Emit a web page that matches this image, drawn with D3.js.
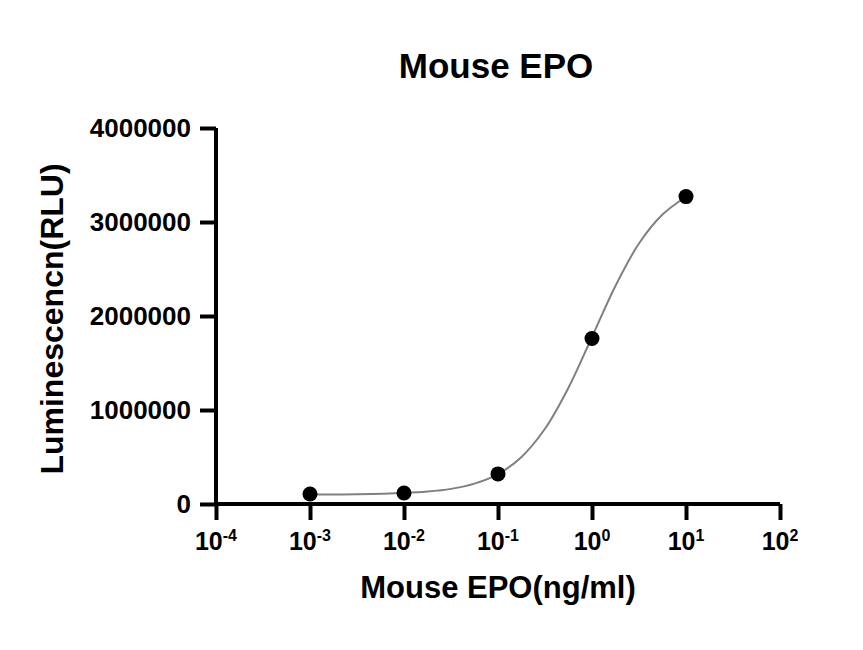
<!DOCTYPE html>
<html>
<head>
<meta charset="utf-8">
<script src="https://cdn.jsdelivr.net/npm/d3@7"></script>
<style>
  html, body { margin: 0; padding: 0; background: #fff; }
  svg { display: block; }
  text { font-family: "Liberation Sans", Arial, sans-serif; font-weight: bold; fill: #000; }
</style>
</head>
<body>
<svg id="chart" width="863" height="650"></svg>
<script>
// ---- data ----
const chartTitle = "Mouse EPO";
const xAxisTitle = "Mouse EPO(ng/ml)";
const yAxisTitle = "Luminescencn(RLU)";

const concentrations = [0.001, 0.01, 0.1, 1, 10];
const luminescence = [107000, 117000, 320000, 1760000, 3270000];

// fitted curve
const curveConc = [0.001, 0.00316, 0.01, 0.0178, 0.0316, 0.0562, 0.1, 0.178, 0.316, 0.562, 1, 1.78, 3.16, 5.62, 10];
const curveLum  = [101000, 104000, 117000, 132000, 161000, 217000, 319000, 501000, 800000, 1237000, 1777000, 2322000, 2771000, 3079000, 3269000];

const xTickExponents = [-4, -3, -2, -1, 0, 1, 2];
const yTickValues = [0, 1000000, 2000000, 3000000, 4000000];

// ---- layout ----
const svg = d3.select("#chart");
const x = d3.scaleLog().domain([1e-4, 1e2]).range([216, 780]);
const y = d3.scaleLinear().domain([0, 4000000]).range([504, 128]);

// title
svg.append("text")
  .attr("x", 496).attr("y", 78)
  .attr("text-anchor", "middle")
  .style("font-size", "35px")
  .text(chartTitle);

// y axis
const yAxis = d3.axisLeft(y)
  .tickValues(yTickValues)
  .tickSize(16)
  .tickPadding(9)
  .tickFormat(d3.format("d"));
const gy = svg.append("g").attr("transform", "translate(216,0)").call(yAxis);
gy.select(".domain").attr("stroke", "#000").attr("stroke-width", 4)
  .attr("d", `M0,${y(4000000)}V${y(0)}`);
gy.selectAll(".tick line").attr("stroke", "#000").attr("stroke-width", 4);
gy.selectAll(".tick text")
  .style("font-size", "26px")
  .style("font-family", '"Liberation Sans", Arial, sans-serif')
  .style("font-weight", "bold")
  .attr("fill", "#000");

// x axis
const xAxis = d3.axisBottom(x)
  .tickValues(xTickExponents.map(e => Math.pow(10, e)))
  .tickSize(16)
  .tickFormat("");
const gx = svg.append("g").attr("transform", "translate(0,504)").call(xAxis);
gx.select(".domain").attr("stroke", "#000").attr("stroke-width", 4)
  .attr("d", `M${x(1e-4)},0H${x(1e2)}`);
gx.selectAll(".tick line").attr("stroke", "#000").attr("stroke-width", 4);

const xl = svg.append("g");
xTickExponents.forEach(e => {
  const t = xl.append("text")
    .attr("x", x(Math.pow(10, e)))
    .attr("y", 550)
    .attr("text-anchor", "middle")
    .style("font-size", "25px");
  t.append("tspan").text("10");
  t.append("tspan").attr("dy", -9).style("font-size", "16px").text(String(e));
});

// axis titles
svg.append("text")
  .attr("x", 498).attr("y", 598)
  .attr("text-anchor", "middle")
  .style("font-size", "31px")
  .text(xAxisTitle);

svg.append("text")
  .attr("transform", "translate(63,319) rotate(-90)")
  .attr("text-anchor", "middle")
  .style("font-size", "32px")
  .text(yAxisTitle);

// curve
const line = d3.line()
  .x((d, i) => x(curveConc[i]))
  .y((d, i) => y(curveLum[i]))
  .curve(d3.curveCatmullRom.alpha(0.5));
svg.append("path")
  .datum(curveLum)
  .attr("d", line)
  .attr("fill", "none")
  .attr("stroke", "#808080")
  .attr("stroke-width", 2);

// points
svg.append("g").selectAll("circle")
  .data(luminescence)
  .join("circle")
  .attr("cx", (d, i) => x(concentrations[i]))
  .attr("cy", d => y(d))
  .attr("r", 7.5)
  .attr("fill", "#000");
</script>
</body>
</html>
